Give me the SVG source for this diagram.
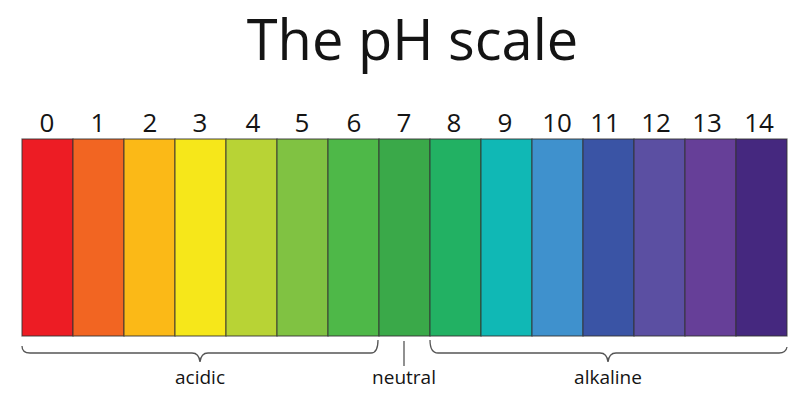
<svg xmlns="http://www.w3.org/2000/svg" width="805" height="404" viewBox="0 0 805 404">
<style>
.t{font-family:"Open Sans","Liberation Sans",sans-serif;fill:#141414;text-anchor:middle}
.num{font-size:26px}
.lbl{font-size:19px}
.bar{stroke:#333;stroke-opacity:0.75;stroke-width:1.2}
.br{fill:none;stroke:#555;stroke-width:1.3}
</style>
<rect width="805" height="404" fill="#fff"/>
<text id="title" class="t" x="412.5" y="60" font-size="56">The pH scale</text>
<g id="bars">
<g id="ph0"><rect class="bar" x="22" y="139" width="51" height="197" fill="#ED1C24"/><text class="t num" x="47" y="132">0</text></g>
<g id="ph1"><rect class="bar" x="73" y="139" width="51" height="197" fill="#F26522"/><text class="t num" x="98" y="132">1</text></g>
<g id="ph2"><rect class="bar" x="124" y="139" width="51" height="197" fill="#FBB917"/><text class="t num" x="150" y="132">2</text></g>
<g id="ph3"><rect class="bar" x="175" y="139" width="51" height="197" fill="#F6E71A"/><text class="t num" x="200" y="132">3</text></g>
<g id="ph4"><rect class="bar" x="226" y="139" width="51" height="197" fill="#B8D335"/><text class="t num" x="253" y="132">4</text></g>
<g id="ph5"><rect class="bar" x="277" y="139" width="51" height="197" fill="#80C242"/><text class="t num" x="302" y="132">5</text></g>
<g id="ph6"><rect class="bar" x="328" y="139" width="51" height="197" fill="#4EB848"/><text class="t num" x="354" y="132">6</text></g>
<g id="ph7"><rect class="bar" x="379" y="139" width="51" height="197" fill="#3AA949"/><text class="t num" x="404" y="132">7</text></g>
<g id="ph8"><rect class="bar" x="430" y="139" width="51" height="197" fill="#22B163"/><text class="t num" x="454" y="132">8</text></g>
<g id="ph9"><rect class="bar" x="481" y="139" width="51" height="197" fill="#10B8B5"/><text class="t num" x="505" y="132">9</text></g>
<g id="ph10"><rect class="bar" x="532" y="139" width="51" height="197" fill="#3F91CD"/><text class="t num" x="557" y="132">10</text></g>
<g id="ph11"><rect class="bar" x="583" y="139" width="51" height="197" fill="#3A54A5"/><text class="t num" x="605" y="132">11</text></g>
<g id="ph12"><rect class="bar" x="634" y="139" width="51" height="197" fill="#5B4FA2"/><text class="t num" x="656" y="132">12</text></g>
<g id="ph13"><rect class="bar" x="685" y="139" width="51" height="197" fill="#663F98"/><text class="t num" x="707" y="132">13</text></g>
<g id="ph14"><rect class="bar" x="736" y="139" width="51" height="197" fill="#45287F"/><text class="t num" x="759" y="132">14</text></g>
</g>
<g id="connectors">
<path class="br" d="M22,346 Q22,353 30,353 L192,353 Q199,353 200,362 Q201,353 208,353 L371,353 Q378,353 378,340"/>
<path class="br" d="M404,341 L404,366"/>
<path class="br" d="M430,340 Q430,353 438,353 L600,353 Q607,353 608,362 Q609,353 616,353 L779,353 Q786,353 787,347"/>
</g>
<g id="acidic"><text class="t lbl" x="200" y="384">acidic</text></g>
<g id="neutral"><text class="t lbl" x="404" y="384">neutral</text></g>
<g id="alkaline"><text class="t lbl" x="608" y="384">alkaline</text></g>
</svg>
